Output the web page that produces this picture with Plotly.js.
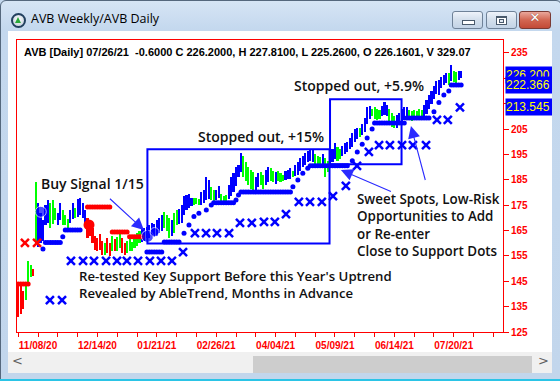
<!DOCTYPE html>
<html><head><meta charset="utf-8">
<script src="https://cdn.plot.ly/plotly-3.0.1.min.js"></script>
<style>
html,body{margin:0;padding:0;}
body{width:560px;height:381px;overflow:hidden;position:relative;background:#c4d8ee;}
#win{position:absolute;left:0;top:0;width:562px;height:383px;box-sizing:border-box;border:1px solid #55687d;border-radius:6px 6px 0 0;background:linear-gradient(#d6e5f5,#c4d8ee 28px,#c2d6ec);}
#icon{position:absolute;left:10px;top:12px;width:11px;height:11px;border-radius:50%;border:2px solid #22405f;background:radial-gradient(circle at 50% 40%,#ffffff,#b9c6d4);}
#tri{position:absolute;left:2px;top:2px;width:0;height:0;border-left:3.5px solid transparent;border-right:3.5px solid transparent;border-bottom:6px solid #28a838;}
#title{position:absolute;left:30px;top:9px;font-family:"Open Sans",sans-serif;font-size:12.5px;color:#000;white-space:nowrap;}
.btn{position:absolute;top:10px;height:16px;width:29px;border:1px solid #6f8298;border-radius:3px;background:linear-gradient(#eef3fa,#d3dfec 50%,#c3d3e6);box-sizing:content-box;}
#bmin{left:451px;} #bmax{left:485px;}
#bclose{left:518px;width:30px;border-color:#7a3a34;background:linear-gradient(#eaa79b,#d26652 50%,#c24a37);}
#gmin{position:absolute;left:9px;top:8px;width:11px;height:3px;background:#fff;border:1px solid #4a5a6c;}
#gmax{position:absolute;left:9px;top:4px;width:9px;height:6px;border:1px solid #4a5a6c;border-top-width:2px;background:#fff;box-shadow:inset 0 0 0 1px #fff;}
#gmax:after{content:"";position:absolute;left:2px;top:1px;width:3px;height:2px;border:1px solid #4a5a6c;background:#dfe7f1;}
#gclose{position:absolute;left:0;top:-2px;width:30px;text-align:center;font-family:"DejaVu Sans",sans-serif;font-weight:bold;font-size:13px;color:#fff;text-shadow:0 0 1px #6a2a22;}
#client{position:absolute;left:8px;top:31px;width:544px;height:321px;background:#fff;overflow:hidden;}
#chart{position:absolute;left:0;top:0;width:544px;height:321px;}
#hs{position:absolute;left:8px;top:352px;width:544px;height:21px;background:#f0f0f0;}
#thumb{position:absolute;left:245px;top:4px;width:279px;height:17px;background:#cdcdcd;}
.arr{position:absolute;top:1px;font-family:"DejaVu Sans",sans-serif;font-size:13px;color:#606060;}
#cy{position:absolute;left:0;top:379px;width:560px;height:2px;background:#2bc4e6;}
</style></head>
<body>
<div id="win">
  <div id="icon"><div id="tri"></div></div>
  <div id="title">AVB Weekly/AVB Daily</div>
  <div class="btn" id="bmin"><div id="gmin"></div></div>
  <div class="btn" id="bmax"><div id="gmax"></div></div>
  <div class="btn" id="bclose"><div id="gclose">✕</div></div>
</div>
<div id="client"><div id="chart"></div></div>
<div id="hs"><div id="thumb"></div><span class="arr" style="left:4px">&lt;</span><span class="arr" style="left:530px">&gt;</span></div>
<div id="cy"></div>
<script>
// ---------------- DATA ----------------
const tickDates = ['11/08/20','12/14/20','01/21/21','02/26/21','04/04/21','05/09/21','06/14/21','07/20/21'];
const priceTicks = [125,135,145,155,165,175,185,195,205,215,225,235];
// 215 and 225 are hidden behind the price boxes in the reference
const priceTickText = ['125','135','145','155','165','175','185','195','205','','','235'];

// daily bar trend code per bar: R = down, G = pullback, B = up  (180 bars)
const barTrend = [
 'RRRGGGR','G','BBBBB','GGG','BB','GGG','BB','G','BBBB',
 'RRRRRRRGRRGRGGRRGGGGGG',
 'BBBBBBBBB','GGG','B','GG','BBBBBB','GGG','BBBB','GG','BB','GGG','BBBBBB','GGGGG','BB','GG','BB','GG','B','GGG','BBB','G',
 'BBBBBBBB','GGG','B','GG','BBB','GG','BBBBBBB','G','BBBB','GGGG','BBB','GGG','BBBBB','GGGGGG','BBBBBBBBBB','G','B','GG','BB'
].join('').split('');
const barHigh = [143.5,143.0,141.0,143.0,153.0,151.5,150.0,184.0,176.0,172.0,
 169.0,175.0,177.0,176.0,177.0,174.0,172.0,176.0,173.0,171.0,
 169.5,173.0,176.0,174.0,177.5,178.0,176.0,173.0,170.0,168.0,
 166.0,163.0,162.0,163.5,161.0,160.0,162.0,160.0,163.0,161.5,
 162.5,163.5,162.0,160.0,161.0,162.0,160.5,163.0,164.0,165.0,
 165.5,166.0,166.5,167.0,168.0,167.5,169.0,170.0,171.0,172.5,
 171.0,170.0,169.0,172.0,173.0,173.5,175.0,178.5,179.0,179.5,
 178.0,178.0,178.0,177.5,180.0,181.0,186.0,185.0,182.0,181.0,
 181.0,182.5,179.5,178.5,179.0,183.0,186.0,187.5,190.0,190.8,
 195.6,194.5,192.0,190.0,189.0,188.0,186.0,187.5,188.0,187.0,
 189.0,190.0,189.5,188.5,188.0,188.5,187.5,187.0,188.5,189.0,
 189.5,188.5,191.0,192.0,193.5,194.5,195.5,196.5,196.8,196.8,
 195.0,194.5,194.0,195.0,193.5,192.5,194.5,197.0,199.5,198.0,
 197.0,198.5,199.5,200.0,201.5,203.5,205.0,205.5,205.5,207.0,
 209.5,213.5,214.0,213.0,213.5,213.0,212.5,214.0,215.7,214.5,
 213.0,211.5,210.0,210.5,211.5,213.0,213.5,213.5,212.5,212.0,
 212.5,212.0,213.0,212.5,214.5,216.5,218.5,220.0,222.0,224.0,
 224.5,225.5,226.5,227.0,227.0,230.3,228.0,227.5,228.0,227.8];
const barLow = [131.0,132.0,134.0,137.5,144.0,146.5,147.0,160.0,158.5,160.0,
 161.0,167.0,168.0,166.0,167.5,169.0,167.0,169.0,167.0,167.0,
 166.0,168.0,169.5,170.0,170.5,171.0,170.0,167.0,162.0,163.0,
 160.0,157.5,157.0,157.5,155.5,155.5,156.0,155.0,157.0,157.0,
 157.0,158.0,156.0,155.5,156.0,157.0,157.0,158.0,159.0,160.0,
 160.5,161.0,162.0,162.0,163.0,162.5,163.0,164.0,165.0,166.0,
 165.0,162.0,163.0,164.0,167.0,167.5,168.0,171.0,173.0,174.0,
 174.5,175.0,175.5,175.0,175.0,176.0,177.0,177.5,177.0,176.5,
 177.0,178.0,175.5,175.0,176.0,177.5,178.5,180.0,182.5,186.0,
 188.0,186.0,184.5,183.0,181.5,180.5,181.0,182.0,183.0,181.5,
 183.0,184.0,184.5,184.0,183.5,184.5,184.0,184.5,185.0,185.5,
 185.5,186.0,186.5,187.0,188.5,190.0,191.0,192.0,192.5,192.0,
 190.0,189.5,190.5,191.0,186.0,188.0,190.0,192.0,193.0,192.5,
 193.0,194.5,195.0,196.0,197.0,198.0,200.0,201.0,202.0,202.5,
 204.0,207.0,209.0,210.0,209.0,208.5,209.0,210.0,210.5,210.0,
 208.0,206.0,205.5,205.5,207.0,208.0,208.5,209.0,209.0,208.0,
 208.5,209.0,209.5,209.0,209.5,211.0,213.0,215.0,217.0,219.0,
 218.5,221.0,222.5,223.0,222.5,224.0,223.5,223.0,224.5,225.3];

// support dots (blue) and resistance dots (red)
const supportX = [10,11,12,13,14,15,16,17,18,19,20,21,22,23,24,25,
 52,53,54,55,56,57,58,59,60,61,62,63,64,65,67,69,71,73,76,78,
 79,80,81,82,83,84,85,86,87,88,89,
 90,91,92,93,94,95,96,97,98,99,100,101,102,103,104,105,106,107,108,109,110,
 111,113,115,117,
 118,119,120,121,122,123,124,125,126,127,128,129,130,131,132,133,
 135,137,139,141,143,
 144,145,146,147,148,149,150,151,152,153,154,155,156,
 157,158,159,160,161,162,163,164,165,166,
 168,170,172,174,175,176,177,178,179];
const supportY = [157.7,160.3,160.3,160.3,160.3,160.3,160.3,160.3,162.5,165.2,165.2,165.2,165.2,165.2,165.2,165.2,
 156.5,156.5,156.5,156.5,156.5,156.5,156.5,160.5,160.5,160.5,160.5,160.5,160.5,160.5,163.9,167.2,170.5,171.8,173.1,175.1,
 175.9,175.9,175.9,175.9,175.9,175.9,175.9,175.9,175.9,177.0,179.0,
 180.2,180.2,180.2,180.2,180.2,180.2,180.2,180.2,180.2,180.2,180.2,180.2,180.2,180.2,180.2,180.2,180.2,180.2,180.2,180.2,180.2,
 182.3,184.9,187.6,189.5,
 190.5,190.5,190.5,190.5,190.5,190.5,190.5,190.5,190.5,190.5,190.5,190.5,190.5,190.5,190.5,190.5,
 192.5,196.0,199.0,201.5,205.0,
 207.4,207.4,207.4,207.4,207.4,207.4,207.4,207.4,207.4,207.4,207.4,207.4,207.4,
 209.4,209.4,209.4,209.4,209.4,209.4,209.4,209.4,209.4,209.4,
 211.8,215.5,218.4,220.0,222.4,222.4,222.4,222.4,222.4];
const resistX = [0,1,2,3,4,28,29,30,31,32,33,34,35,36,37,38,39,40,41,42,43,44,45,46,47,48,49,50];
const resistY = [143.9,143.9,143.9,143.9,143.9,
 174.3,174.3,174.3,174.3,174.3,174.3,174.3,174.3,174.3,174.3,
 164.4,164.4,164.4,164.4,164.4,164.4,164.4,
 162.5,162.5,162.5,162.5,162.5,162.5];

// weekly stops (X marks)
const stopX = [12.8,17.7,21.3,26.2,30.6,35.5,39.9,43.9,48.4,53.2,57.7,62.1,66.6,71.4,75.9,80.3,85.2,
 89.6,94.4,99.3,103.7,108.2,113.4,117.9,122.7,127.2,132.4,136.9,141.7,145.8,150.2,155.1,159.5,164.8,169.2,173.6,178.5];
const stopY = [137.6,137.6,153.0,153.0,153.0,153.0,153.0,153.0,153.0,153.0,153.0,153.0,156.5,164.0,164.0,164.0,164.0,
 168.0,168.0,168.4,168.4,171.5,176.3,176.3,176.3,178.6,182.6,190.5,196.0,198.7,198.7,198.7,198.7,198.7,208.6,208.6,213.5];
const sellStopX = [2.7,7.6];
const sellStopY = [160.1,160.1];

// signal dots
const buySigX = [9.1,52.2,55.1];
const buySigY = [172.4,162.7,164.4];
const sellSigX = [28.6];
const sellSigY = [167.2];

// price labels on right
const priceLabels = [226.2, 222.366, 213.545];
const priceLabelText = ['226.200','222.366','213.545'];

const infoLine = 'AVB [Daily] 07/26/21  -0.6000 C 226.2000, H 227.8100, L 225.2600, O 226.1601, V 329.07';

// ---------------- BUILD ----------------
const BLUE='#0000ff', GREEN='#00ff00', RED='#ff0000';
const pal = {R:RED,G:GREEN,B:BLUE};
const idx = barHigh.map((_,i)=>i);
const PL=9, PT=9, PW=486, PH=292, OX=8, OY=31;
const pxX = x => (x-OX-PL)/PW;
const pxY = y => (PT+PH-(y-OY))/PH;

const tickvals=[], ticktext=[];
for(let k=0;k<=24;k++){ tickvals.push(k*8); ticktext.push(k%3===1 ? tickDates[(k-1)/3]||'' : ''); }

const traces = [
 {type:'bar', x:idx, base:barLow, y:barHigh.map((h,i)=>h-barLow[i]), width:0.85,
  marker:{color:barTrend.map(c=>pal[c]), line:{width:0}}, hoverinfo:'skip'},
 {type:'scatter', mode:'markers', x:resistX, y:resistY, marker:{color:RED,size:5}, hoverinfo:'skip'},
 {type:'scatter', mode:'markers', x:supportX, y:supportY, marker:{color:BLUE,size:5}, hoverinfo:'skip'},
 {type:'scatter', mode:'markers', x:stopX, y:stopY, marker:{symbol:'x-thin',size:8,line:{width:2.5,color:BLUE}}, hoverinfo:'skip'},
 {type:'scatter', mode:'markers', x:sellStopX, y:sellStopY, marker:{symbol:'x-thin',size:8,line:{width:2.5,color:RED}}, hoverinfo:'skip'},
 {type:'scatter', mode:'markers', x:buySigX, y:buySigY, marker:{color:BLUE,size:[11,12,9]}, hoverinfo:'skip'},
 {type:'scatter', mode:'markers', x:sellSigX, y:sellSigY, marker:{color:RED,size:11}, hoverinfo:'skip'}
];

const noteFont = {family:'"Open Sans", sans-serif', size:14, color:'#111', weight:600};
const noteFont2 = {family:'"Open Sans", sans-serif', size:13.2, color:'#111', weight:600};
const noteFont3 = {family:'"Open Sans", sans-serif', size:13.4, color:'#111', weight:600};
const txt = (t,x,y,font) => ({xref:'paper',yref:'paper',x:pxX(x),y:pxY(y),xanchor:'left',yanchor:'middle',align:'left',text:t,showarrow:false,font:font||noteFont});
const arrow = (tx,ty,ax,ay) => ({xref:'x',yref:'y',x:tx,y:ty,ax:ax,ay:ay,text:' ',showarrow:true,arrowhead:2,arrowsize:2.2,arrowwidth:1.1,arrowcolor:'#2a2aff',standoff:0});

const annotations = [
 txt(infoLine,22,52,{family:'"Liberation Sans", Arial, sans-serif',size:11,color:'#000',weight:'bold'}),
 txt('Buy Signal 1/15',39,183),
 txt('Stopped out, +15%',196,136),
 txt('Stopped out, +5.9%',292,86),
 txt('Sweet Spots, Low-Risk<br>Opportunities to Add<br>or Re-enter<br>Close to Support Dots',355,224.5,noteFont3),
 txt("Re-tested Key Support Before this Year's Uptrend<br>Revealed by AbleTrend, Months in Advance",77,284,noteFont2),
 arrow(50.8,165.2,-37,-34),
 arrow(130.4,188.9,53,23),
 arrow(158.7,206.2,17,64)
];
priceLabels.forEach((v,k)=>annotations.push({xref:'paper',yref:'y',x:pxX(505),y:v,xanchor:'left',yanchor:'middle',
  text:priceLabelText[k],showarrow:false,bgcolor:BLUE,width:50,height:16,align:'left',borderpad:0,
  font:{family:'"Liberation Sans", Arial, sans-serif',size:12,color:'#ffff00'}}));

const shapes = [
 {type:'rect',xref:'x',yref:'y',x0:52.2,x1:125.8,y0:159.9,y1:197.0,line:{color:BLUE,width:2},layer:'above'},
 {type:'rect',xref:'x',yref:'y',x0:126,x1:154.9,y0:191.1,y1:216.7,line:{color:BLUE,width:2},layer:'above'}
];

const axFont = {family:'"Liberation Sans", Arial, sans-serif',size:10,color:RED,weight:'bold'};
const layout = {
 width:544, height:321, margin:{l:PL,r:544-PL-PW,t:PT,b:321-PT-PH,pad:0},
 paper_bgcolor:'#fff', plot_bgcolor:'#fff', showlegend:false, bargap:0,
 xaxis:{range:[-0.5,195.9], tickmode:'array', tickvals:tickvals, ticktext:ticktext, ticks:'outside', ticklen:4, tickwidth:1, tickcolor:RED,
   showline:true, linecolor:RED, linewidth:1, mirror:true, showgrid:false, zeroline:false, tickfont:axFont, tickangle:0},
 yaxis:{side:'right', range:[125,240.1], tickmode:'array', tickvals:priceTicks, ticktext:priceTickText, ticks:'outside', ticklen:5, tickwidth:1, tickcolor:RED,
   showline:true, linecolor:RED, linewidth:1, mirror:true, showgrid:false, zeroline:false, tickfont:axFont},
 shapes:shapes, annotations:annotations
};
Plotly.newPlot('chart', traces, layout, {displayModeBar:false, staticPlot:true});
</script>
</body></html>
